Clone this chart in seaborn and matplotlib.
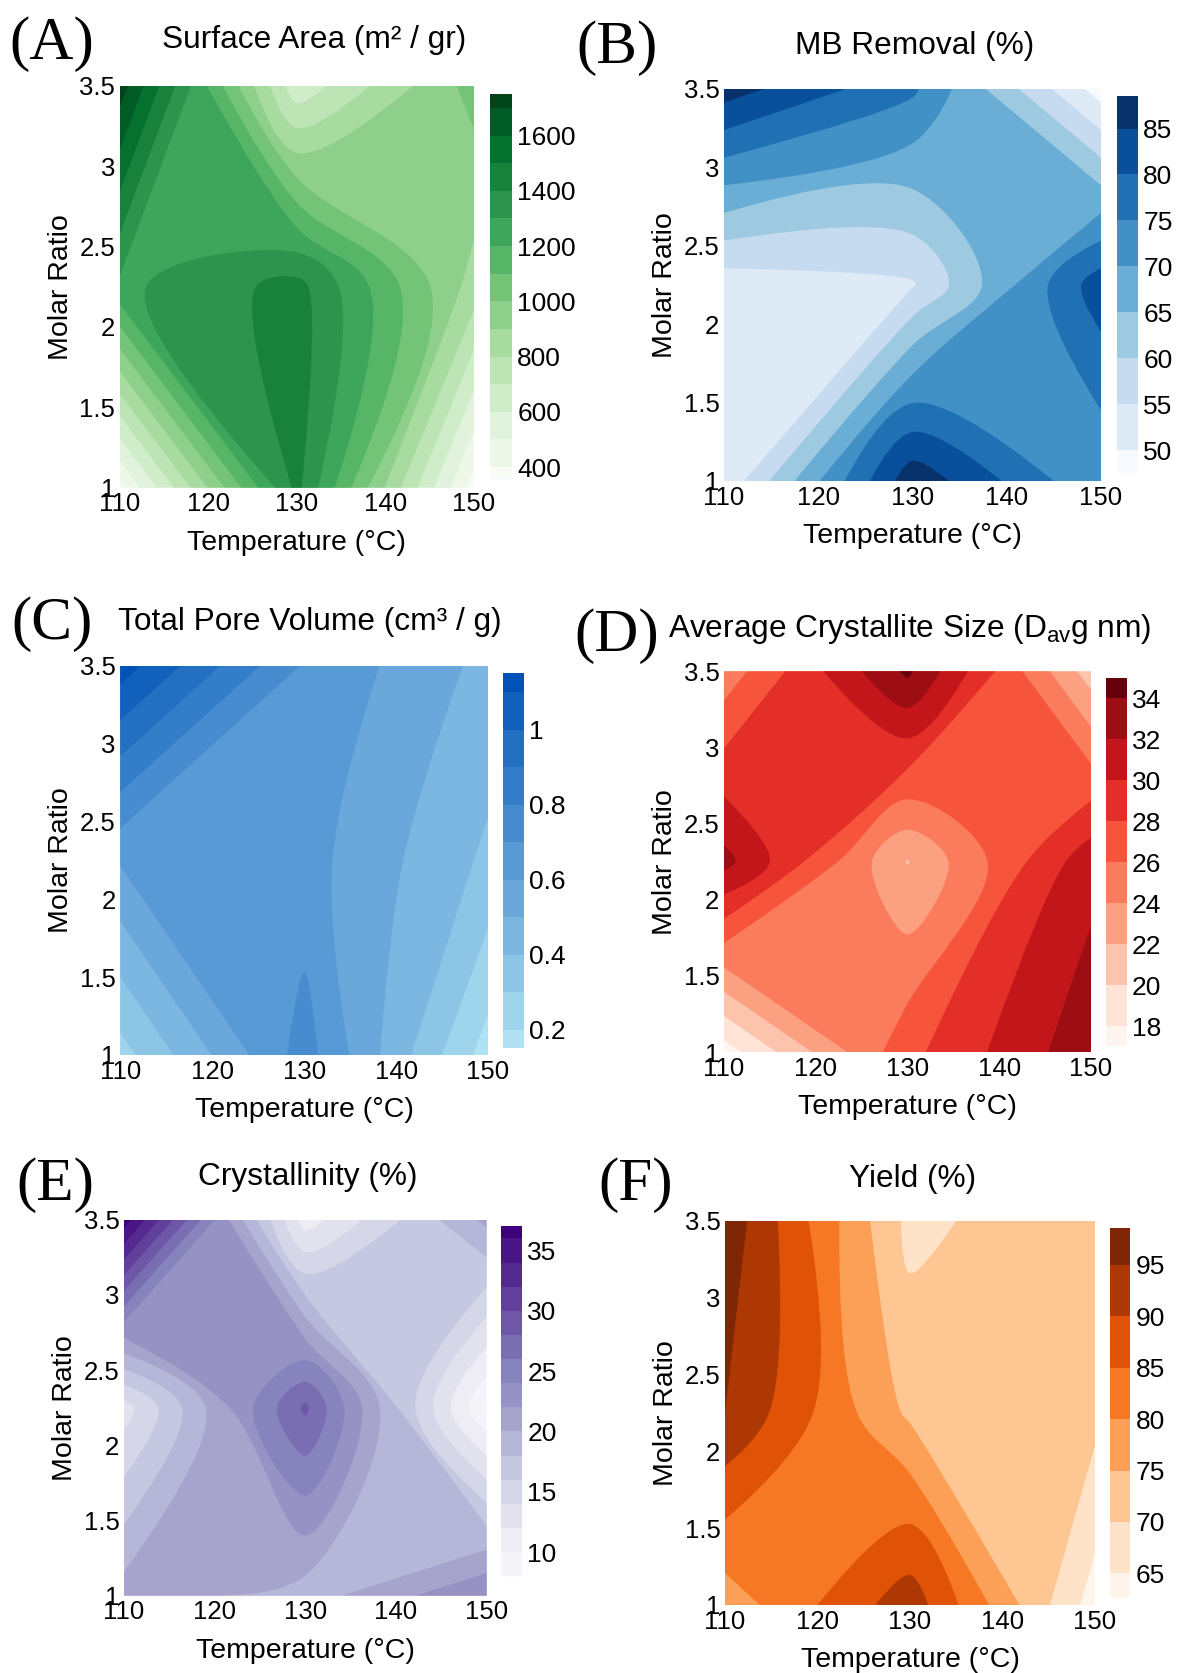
import numpy as np
import matplotlib
matplotlib.use("Agg")
import matplotlib.pyplot as plt
from matplotlib.colors import Normalize
from matplotlib.ticker import FuncFormatter
from matplotlib.path import Path
from matplotlib.patches import PathPatch
import contourpy
import seaborn as sns

sns.set_theme(style="white")
plt.rcParams["font.family"] = ["Liberation Sans", "DejaVu Sans"]
plt.rcParams["mathtext.fontset"] = "custom"
plt.rcParams["mathtext.rm"] = "Liberation Sans"
plt.rcParams["mathtext.it"] = "Liberation Sans:italic"

# ---------------- data (rows: molar ratio 1, 2.25, 3.5; cols: temperature 110, 130, 150)
temperature = [110, 130, 150]
molar_ratio = [1.0, 2.25, 3.5]

surface_area = [[380, 1430, 358],
                [1276, 1437, 857],
                [1752, 630, 1040]]
mb_removal = [[51.0, 88.5, 70.5],
              [52.0, 54.5, 83.0],
              [87.5, 76.0, 47.5]]
pore_volume = [[0.26, 0.745, 0.152],
               [0.61, 0.64, 0.38],
               [1.151, 0.69, 0.47]]
crystallite_size = [[17.04, 27.4, 33.4],
                    [32.7, 21.9, 31.3],
                    [24.8, 34.4, 21.0]]
crystallinity = [[21.0, 19.0, 23.9],
                 [13.1, 28.4, 7.95],
                 [37.05, 11.0, 20.5]]
yield_pct = [[77.0, 93.0, 62.6],
             [95.0, 74.0, 71.5],
             [98.6, 68.5, 74.5]]

x_ticks = [110, 120, 130, 140, 150]
y_ticks = [1, 1.5, 2, 2.5, 3, 3.5]

titles = ["Surface Area (m² / gr)", "MB Removal (%)", "Total Pore Volume (cm³ / g)",
          r"Average Crystallite Size (D$_{\mathrm{av}}$g nm)", "Crystallinity (%)", "Yield (%)"]
letters = ["(A)", "(B)", "(C)", "(D)", "(E)", "(F)"]
cbar_ticks = [[400, 600, 800, 1000, 1200, 1400, 1600],
              [50, 55, 60, 65, 70, 75, 80, 85],
              [0.2, 0.4, 0.6, 0.8, 1.0],
              [18, 20, 22, 24, 26, 28, 30, 32, 34],
              [10, 15, 20, 25, 30, 35],
              [65, 70, 75, 80, 85, 90, 95]]
# contour level specs: (first, last, step)
level_specs = [(400, 1700, 100), (50, 85, 5), (0.2, 1.1, 0.1),
               (18, 34, 2), (8, 36, 2), (65, 95, 5)]
cbar_ranges = [(358, 1752), (47.5, 88.5), (0.152, 1.151),
               (17.04, 35.0), (7.95, 37.05), (62.6, 98.6)]

# ---------------- styling / layout (pixels of a 1178x1673 canvas)
W, H, DPI = 1178, 1673, 100
cmaps = [sns.color_palette("Greens", as_cmap=True),
         sns.color_palette("Blues", as_cmap=True),
         sns.blend_palette(["#b0e2f3", "#0052b6"], as_cmap=True),
         sns.color_palette("Reds", as_cmap=True),
         sns.color_palette("Purples", as_cmap=True),
         sns.color_palette("Oranges", as_cmap=True)]
ax_px = [(119.6, 85.7, 474, 487.5), (724, 88.6, 1101, 481),
         (120.4, 665.7, 488, 1055), (724, 671.4, 1091, 1052),
         (124, 1219.8, 486.5, 1595.5), (725, 1221, 1095, 1605)]
cb_px = [(490, 93.6, 511.7, 478.6), (1116.6, 96.4, 1137.6, 473),
         (503, 672.9, 523.7, 1047.5), (1106, 677.9, 1126.5, 1045.7),
         (501, 1225.8, 521.8, 1576.8), (1110, 1228, 1130, 1598)]
letter_px = [(9.4, 59), (576, 62.5), (11, 639), (574, 651), (16, 1200), (598, 1200)]
title_px = [(314, 48), (914.6, 53.6), (310, 629.6), (910, 636.8), (307.6, 1185.3), (912.8, 1187)]
SMOOTHING = 1.0

datasets = [surface_area, mb_removal, pore_volume, crystallite_size, crystallinity, yield_pct]


# ---------------- smoothed contour-fill helpers (Catmull-Rom style path smoothing)
def tangent(p0, p1, p2, s=SMOOTHING):
    d1 = p0 - p1
    d2 = p2 - p1
    d1a = np.hypot(*d1) ** 0.5
    d2a = np.hypot(*d2) ** 0.5
    num = (d2a * d2a * d1 - d1a * d1a * d2) * s
    den1 = 3 * d2a * (d1a + d2a)
    den2 = 3 * d1a * (d1a + d2a)
    a = p1 + (num / den1 if den1 else 0.0)
    b = p1 - (num / den2 if den2 else 0.0)
    return a, b


def smooth_open(pts, verts, codes):
    n = len(pts)
    if n < 3:
        verts.append(pts[-1]); codes.append(Path.LINETO)
        return
    tg = [tangent(pts[i - 1], pts[i], pts[i + 1]) for i in range(1, n - 1)]
    verts += [tg[0][0], pts[1]]; codes += [Path.CURVE3] * 2
    for i in range(2, n - 1):
        verts += [tg[i - 2][1], tg[i - 1][0], pts[i]]; codes += [Path.CURVE4] * 3
    verts += [tg[n - 3][1], pts[n - 1]]; codes += [Path.CURVE3] * 2


def smooth_closed(pts, verts, codes):
    n = len(pts)
    tg = [tangent(pts[i - 1], pts[i], pts[(i + 1) % n]) for i in range(n)]
    verts.append(pts[0]); codes.append(Path.MOVETO)
    for i in range(1, n):
        verts += [tg[i - 1][1], tg[i][0], pts[i]]; codes += [Path.CURVE4] * 3
    verts += [tg[n - 1][1], tg[0][0], pts[0]]; codes += [Path.CURVE4] * 3
    verts.append(pts[0]); codes.append(Path.CLOSEPOLY)


def ring_path(ring, on_edge, verts, codes):
    n = len(ring)
    if n < 3:
        return
    if not on_edge.any():
        smooth_closed(ring, verts, codes)
        return
    s = int(np.argmax(on_edge))
    ring = np.roll(ring, -s, axis=0)
    on_edge = np.roll(on_edge, -s)
    ring = np.vstack([ring, ring[:1]])
    on_edge = np.append(on_edge, True)
    verts.append(ring[0]); codes.append(Path.MOVETO)
    j = 0
    while j < n:
        k = j + 1
        while not on_edge[k]:
            k += 1
        if k == j + 1:
            verts.append(ring[k]); codes.append(Path.LINETO)
        else:
            smooth_open(ring[j:k + 1], verts, codes)
        j = k
    verts.append(ring[0]); codes.append(Path.CLOSEPOLY)


fmt = FuncFormatter(lambda v, p: f"{v:g}")
fig = plt.figure(figsize=(W / DPI, H / DPI), dpi=DPI)
fig.patch.set_facecolor("white")

tx_lo, tx_hi = temperature[0], temperature[-1]
ry_lo, ry_hi = molar_ratio[0], molar_ratio[-1]

for i, z in enumerate(datasets):
    first, last, step = level_specs[i]
    levels = np.round(np.arange(first - step, last + step * 1.5, step), 4)
    norm = Normalize(vmin=first - step / 2, vmax=last + step / 2)
    cmap = cmaps[i]
    zz = np.asarray(z, float)

    x0, y0, x1, y1 = ax_px[i]
    ax = fig.add_axes([x0 / W, 1 - y1 / H, (x1 - x0) / W, (y1 - y0) / H])
    wpx, hpx = x1 - x0, y1 - y0

    # library contour set (provides the colour scale for the colour bar)
    cs = ax.contourf(temperature, molar_ratio, zz, levels=levels, cmap=cmap, norm=norm)
    cs.set_visible(False)
    ax.set_facecolor(cmap(norm((levels[0] + levels[1]) / 2)))

    # smoothed filled contours: each level paints the region z >= level
    gen = contourpy.contour_generator(np.asarray(temperature, float), np.asarray(molar_ratio, float),
                                      zz, name="serial", fill_type="OuterOffset")
    for k in range(1, len(levels) - 1):
        pts_list, off_list = gen.filled(levels[k], 1e12)
        verts, codes = [], []
        for pts, offs in zip(pts_list, off_list):
            for a, b in zip(offs[:-1], offs[1:]):
                ring = pts[a:b]
                if len(ring) > 1 and np.allclose(ring[0], ring[-1]):
                    ring = ring[:-1]
                on_edge = (np.isclose(ring[:, 0], tx_lo) | np.isclose(ring[:, 0], tx_hi) |
                           np.isclose(ring[:, 1], ry_lo) | np.isclose(ring[:, 1], ry_hi))
                rp = np.column_stack([(ring[:, 0] - tx_lo) / (tx_hi - tx_lo) * wpx,
                                      (ring[:, 1] - ry_lo) / (ry_hi - ry_lo) * hpx])
                ring_path(rp, on_edge, verts, codes)
        if not verts:
            continue
        v = np.array(verts, float)
        v = np.column_stack([tx_lo + v[:, 0] / wpx * (tx_hi - tx_lo),
                             ry_lo + v[:, 1] / hpx * (ry_hi - ry_lo)])
        color = cmap(norm((levels[k] + levels[k + 1]) / 2))
        ax.add_patch(PathPatch(Path(v, codes), facecolor=color, edgecolor="none", lw=0))

    ax.set_xlim(110, 150)
    ax.set_ylim(1, 3.5)
    ax.set_xticks(x_ticks)
    ax.set_yticks(y_ticks)
    ax.xaxis.set_major_formatter(fmt)
    ax.yaxis.set_major_formatter(fmt)
    ax.tick_params(axis="both", length=0, labelsize=18.5, pad=3.3, colors="black")
    for s in ax.spines.values():
        s.set_visible(False)

    ax.set_xlabel("Temperature (°C)", fontsize=20.5, color="black")
    ax.xaxis.set_label_coords((x0 + x1) / 2 / W, 1 - (y1 + 42) / H, transform=fig.transFigure)
    ax.set_ylabel("Molar Ratio", fontsize=20.5, color="black")
    ax.yaxis.set_label_coords((x0 - 46) / W, 1 - (y0 + y1) / 2 / H, transform=fig.transFigure)

    cx0, cy0, cx1, cy1 = cb_px[i]
    cax = fig.add_axes([cx0 / W, 1 - cy1 / H, (cx1 - cx0) / W, (cy1 - cy0) / H])
    cb = fig.colorbar(cs, cax=cax, ticks=cbar_ticks[i], spacing="proportional")
    cb.outline.set_visible(False)
    cax.set_ylim(*cbar_ranges[i])
    cax.yaxis.set_major_formatter(fmt)
    cax.tick_params(length=0, labelsize=19, pad=4, colors="black")

    tx, ty = title_px[i]
    fig.text(tx / W, 1 - ty / H, titles[i], ha="center", va="baseline", fontsize=22.8, color="black")
    lx, ly = letter_px[i]
    fig.text(lx / W, 1 - ly / H, letters[i], ha="left", va="baseline", fontsize=44,
             family=["Liberation Serif", "DejaVu Serif"], color="black")

fig.savefig("out.png", dpi=DPI, facecolor="white")
